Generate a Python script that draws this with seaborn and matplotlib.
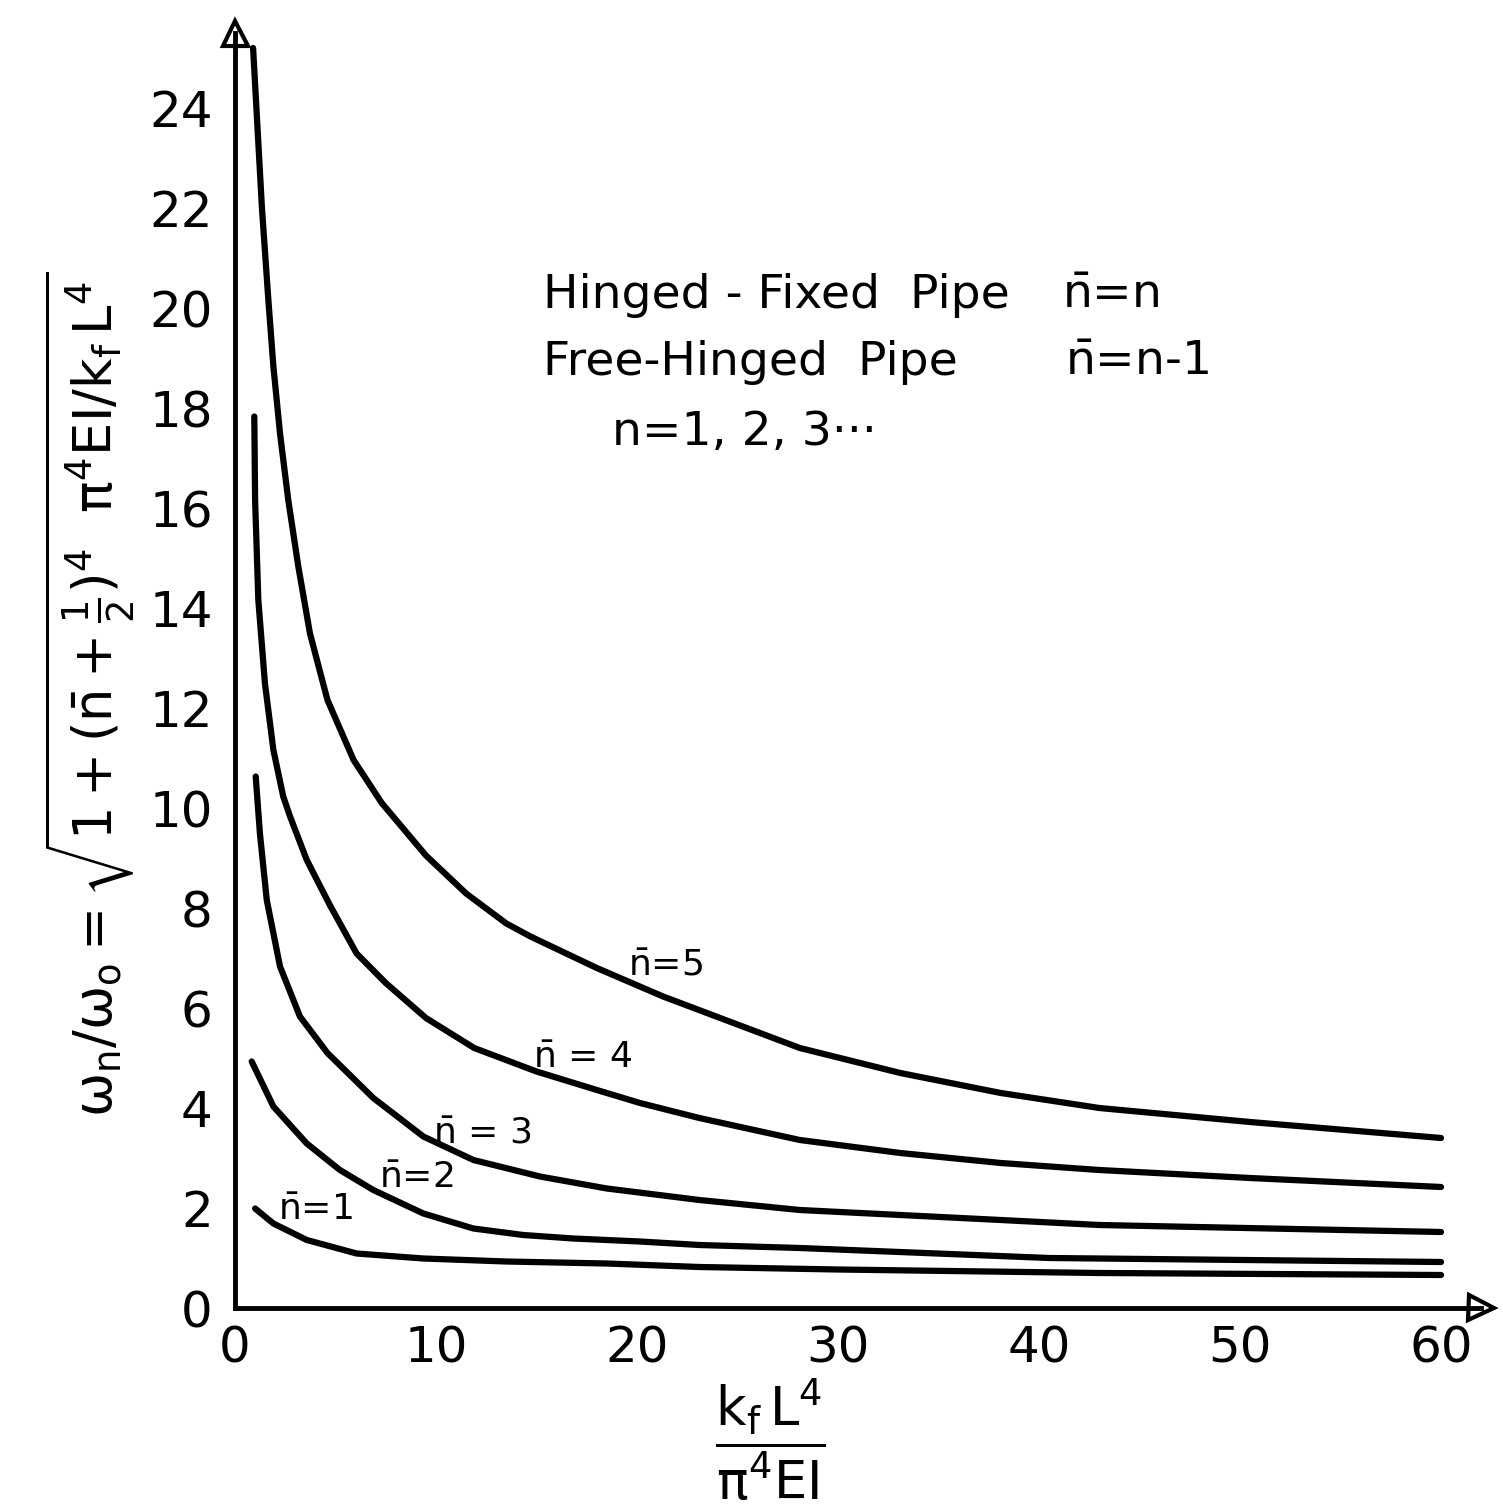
import pandas as pd
import seaborn as sns
import matplotlib.pyplot as plt

# Values: x = k_f L^4 / (pi^4 EI), y = omega_n / omega_o
x_n1 = [1.0, 1.91, 3.57, 6.05, 9.37, 13.5, 18.5, 23.1, 30.0, 43.0, 60.0]
y_n1 = [1.99, 1.69, 1.36, 1.09, 0.99, 0.93, 0.89, 0.82, 0.77, 0.70, 0.66]

x_n2 = [0.83, 1.91, 3.57, 5.22, 6.88, 9.37, 11.86, 14.34, 16.83, 20.15, 23.1, 28.1, 40.5, 60.0]
y_n2 = [4.93, 4.03, 3.29, 2.76, 2.36, 1.89, 1.59, 1.46, 1.39, 1.33, 1.26, 1.2, 1.0, 0.92]

x_n3 = [1.03, 1.24, 1.58, 2.24, 3.23, 4.6, 6.88, 9.37, 11.86, 15.17, 18.5, 23.1, 28.1,
        38.1, 43.0, 60.0]
y_n3 = [10.63, 9.49, 8.16, 6.83, 5.83, 5.1, 4.2, 3.43, 2.96, 2.63, 2.39, 2.16, 1.96,
        1.76, 1.66, 1.52]

x_n4 = [0.96, 1.0, 1.16, 1.49, 1.91, 2.4, 2.74, 3.57, 4.73, 6.05, 7.5, 9.5, 11.9, 15.0,
        18.0, 20.15, 23.1, 28.1, 33.1, 38.1, 43.0, 50.5, 60.0]
y_n4 = [17.83, 16.16, 14.16, 12.49, 11.16, 10.23, 9.83, 8.96, 8.05, 7.09, 6.5, 5.8, 5.2,
        4.73, 4.36, 4.1, 3.8, 3.36, 3.1, 2.9, 2.76, 2.6, 2.42]

x_n5 = [0.9, 1.34, 1.66, 1.91, 2.24, 2.65, 3.15, 3.73, 4.6, 5.9, 7.3, 9.5, 11.5, 13.5,
        14.7, 18.0, 21.3, 24.6, 28.1, 33.1, 38.1, 43.0, 50.5, 60.0]
y_n5 = [25.2, 22.0, 20.16, 18.83, 17.49, 16.16, 14.83, 13.49, 12.16, 10.96, 10.1, 9.05,
        8.29, 7.69, 7.43, 6.8, 6.23, 5.73, 5.2, 4.7, 4.3, 4.0, 3.72, 3.4]

curve_names = ["1", "2", "3", "4", "5"]
curve_labels = [r"$\bar{n}$=1", r"$\bar{n}$=2", r"$\bar{n}$ = 3", r"$\bar{n}$ = 4", r"$\bar{n}$=5"]
label_x = [4.0, 9.0, 12.3, 17.3, 21.4]
label_y = [1.95, 2.6, 3.5, 5.0, 6.85]

x_ticks = [0, 10, 20, 30, 40, 50, 60]
y_ticks = [0, 2, 4, 6, 8, 10, 12, 14, 16, 18, 20, 22, 24]

frames = []
for name, xs, ys in zip(curve_names, [x_n1, x_n2, x_n3, x_n4, x_n5],
                        [y_n1, y_n2, y_n3, y_n4, y_n5]):
    frames.append(pd.DataFrame({"x": xs, "y": ys, "n": name}))
df = pd.concat(frames, ignore_index=True)

sns.set_style("white")
plt.rcParams['font.family'] = ['DejaVu Sans']
plt.rcParams['mathtext.default'] = 'regular'
plt.rcParams['text.color'] = 'black'
plt.rcParams['xtick.color'] = 'black'
plt.rcParams['ytick.color'] = 'black'

W, H = 1503, 1510
fig = plt.figure(figsize=(W / 100, H / 100), dpi=100)
ax = fig.add_axes([235 / W, (H - 1308) / H, 62 * 20.1 / W, 25.5 * 50 / H])

sns.lineplot(data=df, x="x", y="y", units="n", estimator=None, color="black",
             lw=4.5, ax=ax, legend=False)

for lab, lx, ly in zip(curve_labels, label_x, label_y):
    ax.text(lx, ly, lab, fontsize=26, ha="center", va="center")

ax.set_xlim(0, 62)
ax.set_ylim(0, 25.5)
ax.set_xticks(x_ticks)
ax.set_yticks(y_ticks)
ax.tick_params(direction="in", length=16, width=2.5, labelsize=36, color="black",
               labelcolor="black")
ax.tick_params(axis="y", pad=16)
ax.tick_params(axis="x", pad=12)
ax.set_xlabel("")
ax.set_ylabel("")

for s in ["top", "right"]:
    ax.spines[s].set_visible(False)
for s in ["left", "bottom"]:
    ax.spines[s].set_linewidth(3.5)
    ax.spines[s].set_color("black")

# arrow heads on the axes
ax.plot(1, 0, ">", transform=ax.get_yaxis_transform(), clip_on=False,
        ms=18, mfc="white", mec="black", mew=3)
ax.plot(0, 1, "^", transform=ax.get_xaxis_transform(), clip_on=False,
        ms=18, mfc="white", mec="black", mew=3)

# notes
fig.text(543 / W, 1 - 308 / H, "Hinged - Fixed  Pipe", fontsize=34)
fig.text(1062 / W, 1 - 308 / H, r"$\bar{n}$=n", fontsize=34)
fig.text(543 / W, 1 - 375 / H, "Free-Hinged  Pipe", fontsize=34)
fig.text(1065 / W, 1 - 375 / H, r"$\bar{n}$=n-1", fontsize=34)
fig.text(612 / W, 1 - 445 / H, "n=1, 2, 3\u00b7\u00b7\u00b7", fontsize=34)

# axis titles
fig.text(90 / W, 1 - 694 / H,
         r"$\omega_n/\omega_o=\sqrt{1+(\bar{n}+\frac{1}{2})^4\ \ \pi^4 EI/k_f\,L^4}$",
         fontsize=38, rotation=90, ha="center", va="center")
fig.text(770 / W, 1 - 1440 / H, r"$\dfrac{k_f\,L^4}{\pi^4 EI}$",
         fontsize=38, ha="center", va="center")

fig.savefig("out.png", dpi=100)
